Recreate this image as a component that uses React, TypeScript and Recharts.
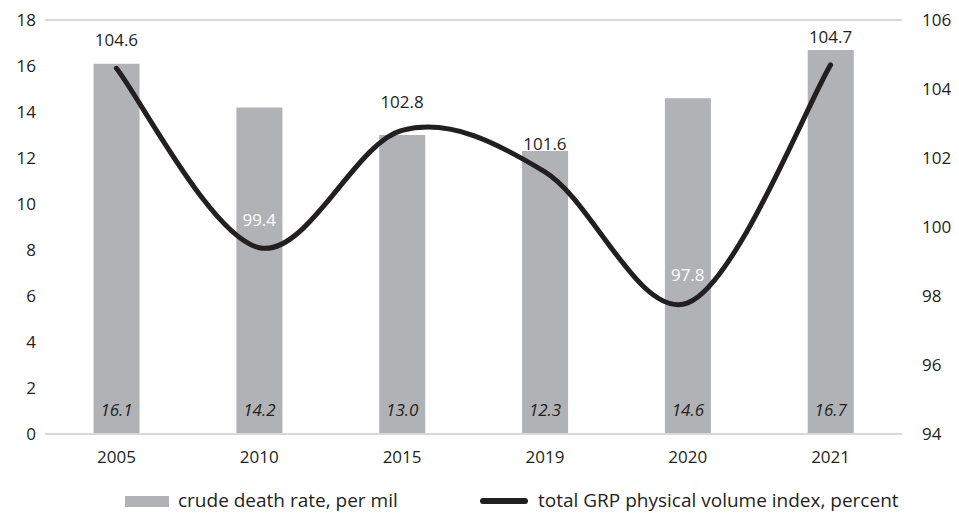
import { Bar, CartesianGrid, ComposedChart, LabelList, Line, XAxis, YAxis } from 'recharts';

const years = ['2005', '2010', '2015', '2019', '2020', '2021'];
const deathRate = [16.1, 14.2, 13.0, 12.3, 14.6, 16.7];
const grpIndex = [104.6, 99.4, 102.8, 101.6, 97.8, 104.7];
const leftTicks = [0, 2, 4, 6, 8, 10, 12, 14, 16, 18];
const rightTicks = [94, 96, 98, 100, 102, 104, 106];
// labels that sit on top of a bar are drawn white
const whiteLabels = ['2010', '2020'];

const data = years.map((year, i) => ({ year, death: deathRate[i], grp: grpIndex[i] }));

const FONT = '"Open Sans", sans-serif';
const BAR = '#b1b2b6';
const LINE = '#231f20';

// spreadsheet-style smoothed line (Catmull-Rom through every point)
const smoothCurve = (context: any) => {
  let pts: number[][] = [];
  return {
    areaStart() {},
    areaEnd() {},
    lineStart() {
      pts = [];
    },
    point(x: number, y: number) {
      pts.push([+x, +y]);
    },
    lineEnd() {
      if (!pts.length) return;
      context.moveTo(pts[0][0], pts[0][1]);
      for (let i = 0; i < pts.length - 1; i++) {
        const p0 = pts[i - 1] || pts[i];
        const p1 = pts[i];
        const p2 = pts[i + 1];
        const p3 = pts[i + 2] || p2;
        context.bezierCurveTo(
          p1[0] + (p2[0] - p0[0]) / 6,
          p1[1] + (p2[1] - p0[1]) / 6,
          p2[0] - (p3[0] - p1[0]) / 6,
          p2[1] - (p3[1] - p1[1]) / 6,
          p2[0],
          p2[1]
        );
      }
    },
  };
};

const GrpLabel = (props: any) => {
  const { x, y, value, index } = props;
  const fill = whiteLabels.includes(years[index]) ? '#ffffff' : '#231f20';
  return (
    <text x={x} y={y - 22} textAnchor="middle" fill={fill} fontSize={17} fontFamily={FONT}>
      {value.toFixed(1)}
    </text>
  );
};

const DeathLabel = (props: any) => {
  const { x, y, width, height, value } = props;
  return (
    <text x={x + width / 2} y={y + height - 18} textAnchor="middle" fill="#231f20" fontSize={17} fontStyle="italic" fontFamily={FONT}>
      {value.toFixed(1)}
    </text>
  );
};

const ChartLegend = () => (
  <svg width={959} height={41} style={{ display: 'block' }}>
    <rect x={125} y={24} width={44} height={11} fill={BAR} />
    <text x={178} y={35} fontSize={19} fill="#231f20" fontFamily={FONT}>crude death rate, per mil</text>
    <line x1={483} x2={525} y1={29} y2={29} stroke={LINE} strokeWidth={6} strokeLinecap="round" />
    <text x={538} y={35} fontSize={19} fill="#231f20" fontFamily={FONT}>total GRP physical volume index, percent</text>
  </svg>
);

export default function App() {
  const tick = { fontSize: 17, fill: '#231f20', fontFamily: FONT };
  return (
    <div style={{ position: 'absolute', left: 0, top: 0, width: 959, height: 513, background: '#fff' }}>
      <ComposedChart width={959} height={472} data={data} margin={{ top: 20, right: 0, bottom: 0, left: 0 }} barCategoryGap="34%">
        <CartesianGrid vertical={false} stroke="#d9d9d9" strokeWidth={2} />
        <XAxis dataKey="year" tickLine={false} axisLine={{ stroke: '#d9d9d9', strokeWidth: 2 }} tick={tick} tickMargin={11} height={38} />
        <YAxis yAxisId="left" domain={[0, 18]} ticks={leftTicks} tickLine={false} axisLine={false} tick={tick} tickMargin={3} width={45} />
        <YAxis yAxisId="right" orientation="right" domain={[94, 106]} ticks={rightTicks} tickLine={false} axisLine={false} tick={{ ...tick, textAnchor: 'start' }} tickMargin={14} width={57} />
        <Bar yAxisId="left" dataKey="death" fill={BAR} isAnimationActive={false}>
          <LabelList dataKey="death" content={DeathLabel} />
        </Bar>
        <Line yAxisId="right" type={smoothCurve as any} dataKey="grp" stroke={LINE} strokeWidth={5} dot={false} strokeLinecap="round" isAnimationActive={false}>
          <LabelList dataKey="grp" content={GrpLabel} />
        </Line>
      </ComposedChart>
      <ChartLegend />
    </div>
  );
}
